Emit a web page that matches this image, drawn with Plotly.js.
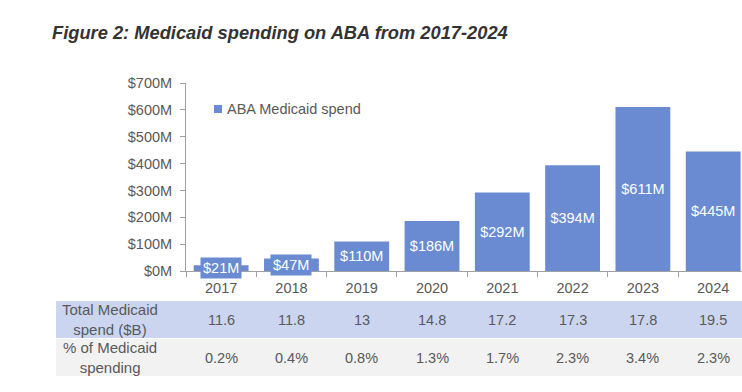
<!DOCTYPE html>
<html>
<head>
<meta charset="utf-8">
<script src="https://cdn.plot.ly/plotly-3.0.1.min.js"></script>
<style>html,body{margin:0;padding:0;background:#fff}#chart{width:742px;height:392px}</style>
</head>
<body>
<div id="chart"></div>
<script>
const years = ["2017","2018","2019","2020","2021","2022","2023","2024"];
const abaSpend = [21, 47, 110, 186, 292, 394, 611, 445];
const totalMedicaid = ["11.6","11.8","13","14.8","17.2","17.3","17.8","19.5"];
const pctMedicaid = ["0.2%","0.4%","0.8%","1.3%","1.7%","2.3%","3.4%","2.3%"];
const rowLabels = ["Total Medicaid<br>spend ($B)", "% of Medicaid<br>spending"];
const seriesName = "ABA Medicaid spend";

const barColor = "#6a8bd1";
const textGray = "#595959";
const fontFam = "Liberation Sans, Arial, sans-serif";
const smallLimit = 60;

const fmt = v => "$" + v + "M";

function py(px) { return (271 - px) / 188; }
function pxx(px) { return (px - 186) / 556; }

const trace = {
  type: "bar",
  x: years,
  y: abaSpend,
  name: seriesName,
  marker: {color: barColor},
  text: abaSpend.map(v => v < smallLimit ? "" : fmt(v)),
  textposition: "inside",
  insidetextanchor: "middle",
  textfont: {color: "#ffffff", size: 14.5, family: fontFam},
  hoverinfo: "none",
  showlegend: false
};

const annotations = [];
abaSpend.forEach((v, i) => {
  if (v < smallLimit) {
    annotations.push({
      x: i, y: v / 2, xref: "x", yref: "y",
      text: fmt(v), showarrow: false,
      font: {color: "#ffffff", size: 14.5, family: fontFam},
      bgcolor: barColor, borderpad: 2, xanchor: "center", yanchor: "middle"
    });
  }
});

const shapes = [
  {type: "rect", xref: "paper", yref: "paper", x0: pxx(56), x1: pxx(742), y0: py(338), y1: py(301),
   fillcolor: "#ccd5f0", line: {width: 0}, layer: "below"},
  {type: "rect", xref: "paper", yref: "paper", x0: pxx(56), x1: pxx(742), y0: py(376), y1: py(339),
   fillcolor: "#f2f2f2", line: {width: 0}, layer: "below"},
  {type: "rect", xref: "paper", yref: "paper", x0: pxx(214), x1: pxx(222), y0: py(113), y1: py(105),
   fillcolor: barColor, line: {width: 0}}
];

annotations.push({xref: "paper", yref: "paper", x: pxx(225), y: py(109), text: seriesName,
  xanchor: "left", yanchor: "middle", showarrow: false,
  font: {size: 14.5, color: textGray, family: fontFam}});

annotations.push({xref: "paper", yref: "paper", x: pxx(110), y: py(319.5), text: rowLabels[0],
  xanchor: "center", yanchor: "middle",
  showarrow: false, font: {size: 15, color: textGray, family: fontFam}, align: "center"});
annotations.push({xref: "paper", yref: "paper", x: pxx(110), y: py(357.5), text: rowLabels[1],
  xanchor: "center", yanchor: "middle",
  showarrow: false, font: {size: 15, color: textGray, family: fontFam}, align: "center"});

years.forEach((yr, i) => {
  annotations.push({xref: "x", yref: "paper", x: i, y: py(320), text: totalMedicaid[i],
    xanchor: "center", yanchor: "middle",
    showarrow: false, font: {size: 14.5, color: textGray, family: fontFam}});
  annotations.push({xref: "x", yref: "paper", x: i, y: py(358), text: pctMedicaid[i],
    xanchor: "center", yanchor: "middle",
    showarrow: false, font: {size: 14.5, color: textGray, family: fontFam}});
});

const layout = {
  width: 742, height: 392,
  margin: {l: 186, r: 0, t: 83, b: 121, pad: 0},
  paper_bgcolor: "#ffffff", plot_bgcolor: "#ffffff",
  font: {family: fontFam, color: textGray, size: 14},
  showlegend: false,
  title: {
    text: "<b><i>Figure 2: Medicaid spending on ABA from 2017-2024</i></b>",
    x: 52 / 742, xanchor: "left", y: 1 - 33 / 392, yanchor: "middle",
    font: {size: 18.3, color: "#333333", family: fontFam}
  },
  bargap: 0.22,
  xaxis: {
    type: "category", range: [-0.5, 7.41], fixedrange: true,
    showline: true, linecolor: "#a0a0a0", linewidth: 1,
    ticks: "outside", tickson: "boundaries", ticklen: 5, tickcolor: "#a0a0a0",
    ticklabelstandoff: 4,
    tickfont: {size: 14.5, color: textGray}, showgrid: false, zeroline: false
  },
  yaxis: {
    range: [0, 700], dtick: 100, tick0: 0, fixedrange: true,
    tickprefix: "$", ticksuffix: "M",
    showline: true, linecolor: "#a0a0a0", linewidth: 1,
    ticks: "outside", ticklen: 5, tickcolor: "#a0a0a0",
    ticklabelstandoff: 5,
    tickfont: {size: 14.5, color: textGray}, showgrid: false, zeroline: false
  },
  shapes: shapes,
  annotations: annotations
};

Plotly.newPlot("chart", [trace], layout, {staticPlot: true, displayModeBar: false});
</script>
</body>
</html>
